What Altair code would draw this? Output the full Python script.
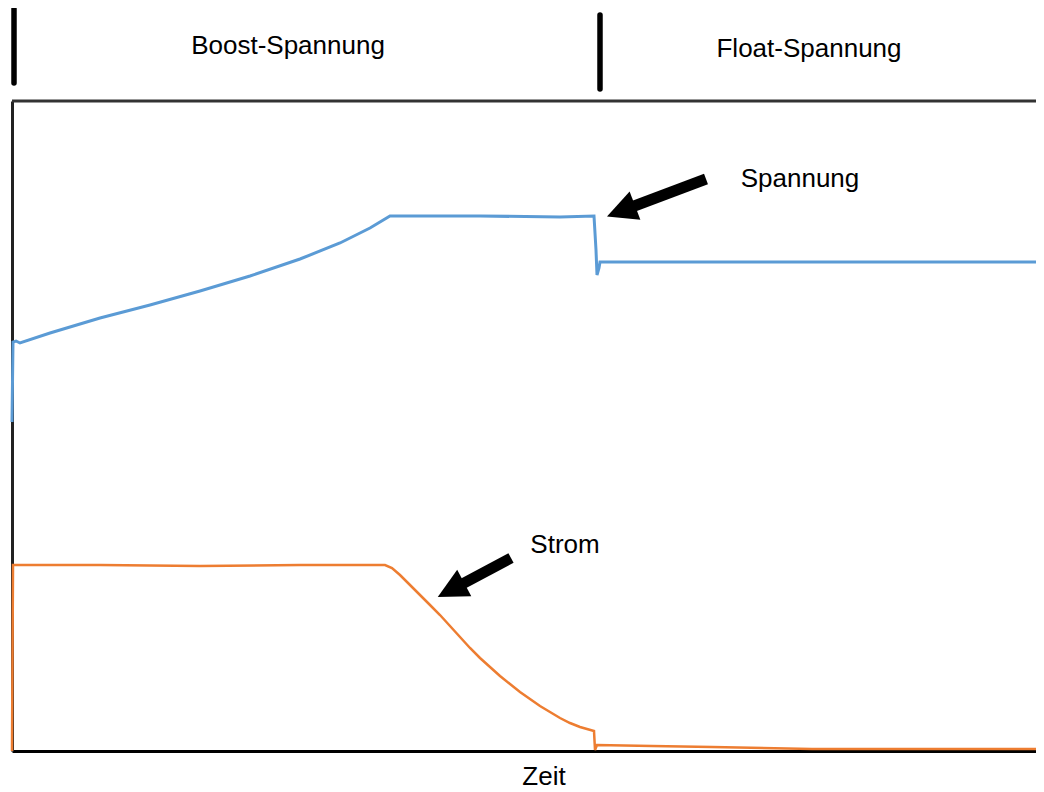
import altair as alt
import pandas as pd

# Voltage (Spannung) curve: time vs. level (arbitrary units)
v_t = [0, 1, 4, 8, 38, 88, 138, 188, 238, 288, 328, 358, 378, 468, 548, 582, 584, 585, 587, 588, 1024]
v_y = [329, 409, 410, 408, 418, 433, 446, 460, 475, 492, 508, 523, 535, 535, 534, 535, 501, 476, 483, 489, 489]

# Current (Strom) curve
c_t = [0, 1, 88, 188, 288, 373, 380, 388, 398, 408, 418, 428, 438, 448, 458, 468, 478, 488,
       498, 508, 518, 528, 538, 548, 558, 568, 582, 583, 585, 640, 700, 800, 1024]
c_y = [0, 186, 186, 185, 186, 186, 183, 176, 166, 156, 146, 136, 125, 114, 103, 93, 84, 75,
       67, 59, 52, 45, 39, 33, 28, 24, 20, 1, 6, 5, 4, 2, 2]

# Phase separators (top)
sep_x = [2, 588]
sep_y1 = [742, 736]
sep_y2 = [668, 662]

# Labels
lab_text = ["Boost-Spannung", "Float-Spannung", "Spannung", "Strom", "Zeit"]
lab_x = [276, 797, 788, 553, 532]
lab_y = [697, 694, 564, 198, -34]

# Arrows: tail -> head centre, head angle
arr_x1 = [694, 499]
arr_y1 = [572, 193]
arr_x2 = [609, 439]
arr_y2 = [540, 161]
arr_angle = [249, 242]

X_DOM = [0, 1024]
Y_DOM = [0, 650]

volt = pd.DataFrame({"t": v_t, "y": v_y})
curr = pd.DataFrame({"t": c_t, "y": c_y})
seps = pd.DataFrame({"x": sep_x, "y1": sep_y1, "y2": sep_y2})
labs = pd.DataFrame({"text": lab_text, "x": lab_x, "y": lab_y})
arrs = pd.DataFrame({"x1": arr_x1, "y1": arr_y1, "x2": arr_x2, "y2": arr_y2, "angle": arr_angle})

xs = alt.Scale(domain=X_DOM, nice=False, zero=False)
ys = alt.Scale(domain=Y_DOM, nice=False, zero=False)

x_axis = alt.Axis(labels=False, ticks=False, grid=False, title=None,
                  domainColor="black", domainWidth=3)
y_axis = alt.Axis(labels=False, ticks=False, grid=False, title=None,
                  domainColor="#222222", domainWidth=3)

blue = alt.Chart(volt).mark_line(color="#5B9BD5", strokeWidth=3).encode(
    x=alt.X("t:Q", scale=xs, axis=x_axis),
    y=alt.Y("y:Q", scale=ys, axis=y_axis),
)
orange = alt.Chart(curr).mark_line(color="#ED7D31", strokeWidth=2.5).encode(
    x=alt.X("t:Q", scale=xs),
    y=alt.Y("y:Q", scale=ys),
)
top = alt.Chart(pd.DataFrame({"a": [0]})).mark_rule(color="#333333", strokeWidth=3).encode(
    x=alt.datum(X_DOM[0], scale=xs),
    x2=alt.datum(X_DOM[1]),
    y=alt.datum(Y_DOM[1], scale=ys),
)
sep = alt.Chart(seps).mark_rule(color="black", strokeWidth=5.5, strokeCap="round").encode(
    x=alt.X("x:Q", scale=xs),
    y=alt.Y("y1:Q", scale=ys),
    y2="y2:Q",
)
shaft = alt.Chart(arrs).mark_rule(color="black", strokeWidth=11).encode(
    x=alt.X("x1:Q", scale=xs),
    y=alt.Y("y1:Q", scale=ys),
    x2="x2:Q",
    y2="y2:Q",
)
head = alt.Chart(arrs).mark_point(shape="M0,-1L-1,1L1,1Z", filled=True, size=900,
                                  color="black", opacity=1).encode(
    x=alt.X("x2:Q", scale=xs),
    y=alt.Y("y2:Q", scale=ys),
    angle=alt.Angle("angle:Q", scale=None),
)
text = alt.Chart(labs).mark_text(font="Liberation Sans", fontSize=26, baseline="alphabetic",
                                 align="center", color="black").encode(
    x=alt.X("x:Q", scale=xs),
    y=alt.Y("y:Q", scale=ys),
    text="text:N",
)

chart = alt.layer(blue, orange, top, sep, shaft, head, text).properties(
    width=1024, height=650,
    autosize=alt.AutoSizeParams(type="none"),
    padding={"left": 4, "top": 93, "right": 0, "bottom": 40},
    background="white",
).configure_view(stroke=None)

chart.save("out.html", embed_options={"renderer": "svg", "actions": False})
